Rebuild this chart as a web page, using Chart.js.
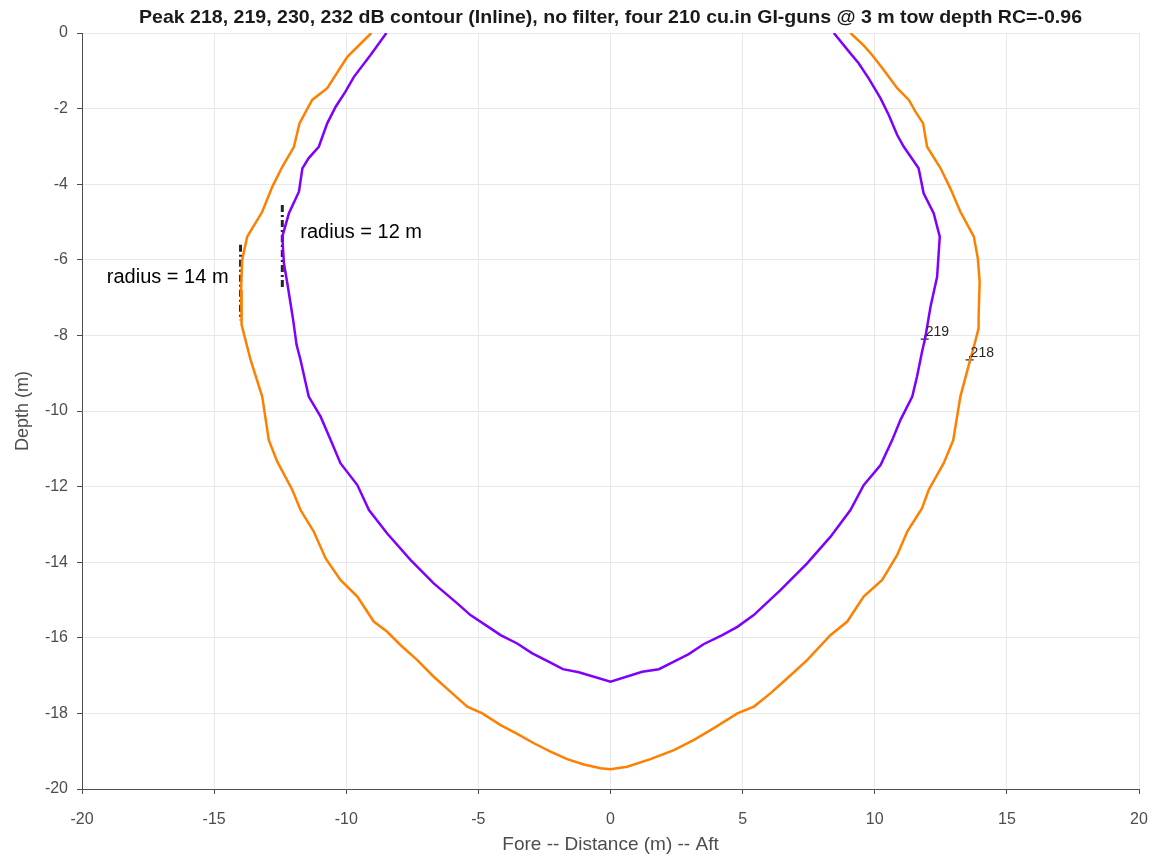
<!DOCTYPE html>
<html>
<head>
<meta charset="utf-8">
<script src="https://cdn.jsdelivr.net/npm/chart.js@4/dist/chart.umd.min.js"></script>
<style>
  body { margin: 0; background: #fff; }
  canvas { display: block; }
</style>
</head>
<body>
<canvas id="contour" width="1151" height="855"></canvas>
<script>
// 218 dB contour (orange), traced left top -> bottom -> right top
const x218 = [-9.05, -9.96, -10.72, -11.29, -11.77, -11.98, -12.42, -12.80, -13.18, -13.75, -13.94, -13.98, -13.96,
  -13.62, -13.18, -12.93, -12.61, -12.04, -11.73, -11.23, -10.78, -10.22, -9.58, -8.96, -8.45, -7.95, -7.31, -6.69,
  -6.05, -5.42, -4.85, -4.16, -3.53, -2.90, -2.27, -1.64, -1.01, -0.38, 0, 0.63, 1.51, 2.40, 3.16, 3.91, 4.80, 5.43,
  6.05, 6.69, 7.44, 8.32, 8.96, 9.58, 10.28, 10.85, 11.23, 11.79, 12.04, 12.61, 12.97, 13.24, 13.59, 13.75, 13.93,
  13.93, 13.97, 13.90, 13.75, 13.24, 12.86, 12.49, 11.98, 11.83, 11.54, 11.29, 10.85, 10.34, 9.90, 9.57, 9.08];
const y218 = [0, -0.63, -1.46, -1.77, -2.39, -3.01, -3.54, -4.07, -4.73, -5.39, -6.01, -6.80, -7.72,
  -8.65, -9.62, -10.77, -11.34, -12.09, -12.62, -13.19, -13.90, -14.47, -14.91, -15.57, -15.84, -16.19, -16.59, -17.03,
  -17.43, -17.82, -18.00, -18.31, -18.54, -18.79, -19.01, -19.21, -19.35, -19.45, -19.48, -19.41, -19.21, -18.97, -18.70, -18.39, -18.00, -17.82,
  -17.47, -17.07, -16.59, -15.93, -15.57, -14.91, -14.47, -13.81, -13.19, -12.57, -12.09, -11.38, -10.77, -9.62, -8.70, -8.30, -7.81,
  -7.51, -6.58, -5.96, -5.39, -4.73, -4.11, -3.58, -3.01, -2.39, -2.08, -1.77, -1.46, -0.98, -0.58, -0.32, 0];

// 219 dB contour (purple)
const x219 = [-8.48, -9.08, -9.71, -10.03, -10.40, -10.72, -11.04, -11.42, -11.66, -11.79, -12.17, -12.42, -12.36,
  -12.23, -12.11, -12.01, -11.88, -11.73, -11.42, -10.97, -10.59, -10.22, -9.58, -9.14, -8.45, -7.57, -6.69, -5.80,
  -5.30, -4.54, -4.16, -3.53, -2.96, -2.40, -1.80, -1.20, 0, 1.20, 1.83, 2.40, 2.96, 3.52, 4.23, 4.80, 5.42, 6.43,
  7.44, 8.32, 9.08, 9.58, 10.22, 10.66, 10.97, 11.42, 11.60, 11.79, 11.92, 12.11, 12.36, 12.46, 12.23, 11.85, 11.66,
  11.10, 10.85, 10.53, 10.22, 9.77, 9.39, 9.08, 8.45];
const y219 = [0, -0.58, -1.16, -1.55, -1.95, -2.39, -3.01, -3.31, -3.58, -4.20, -4.77, -5.39, -6.09,
  -6.62, -7.15, -7.59, -8.25, -8.65, -9.62, -10.15, -10.77, -11.38, -11.96, -12.62, -13.24, -13.94, -14.56, -15.09,
  -15.40, -15.75, -15.93, -16.15, -16.41, -16.61, -16.83, -16.91, -17.16, -16.90, -16.83, -16.63, -16.43, -16.17, -15.93, -15.71, -15.40, -14.74,
  -14.03, -13.33, -12.62, -11.96, -11.43, -10.77, -10.24, -9.62, -9.09, -8.43, -8.03, -7.24, -6.45, -5.39, -4.77, -4.24, -3.58,
  -3.01, -2.70, -2.17, -1.73, -1.20, -0.80, -0.54, 0];

// radius markers
const radiusX = [-14, -12.42];
const radiusTop = [-5.6, -4.55];
const radiusBottom = [-7.6, -6.75];
const radiusText = ['radius = 14 m', 'radius = 12 m'];

// contour labels (clabel)
const levelText = ['219', '218'];
const levelX = [11.89, 13.59];
const levelY = [-8.10, -8.65];

const xTicks = [-20, -15, -10, -5, 0, 5, 10, 15, 20];
const yTicks = [0, -2, -4, -6, -8, -10, -12, -14, -16, -18, -20];

const FONT = "'Liberation Sans', Arial, sans-serif";
const TITLE = 'Peak 218, 219, 230, 232 dB contour (Inline), no filter, four 210 cu.in GI-guns @ 3 m tow depth RC=-0.96';

function toPoints(xs, ys) {
  return xs.map((x, i) => ({ x: x, y: ys[i] }));
}

const datasets = [
  { data: toPoints(x218, y218), borderColor: '#ff8000', borderWidth: 2.5, showLine: true, pointRadius: 0, tension: 0 },
  { data: toPoints(x219, y219), borderColor: '#8000ff', borderWidth: 2.5, showLine: true, pointRadius: 0, tension: 0 }
];
radiusX.forEach((x, i) => {
  datasets.push({
    data: [{ x: x, y: radiusTop[i] }, { x: x, y: radiusBottom[i] }],
    borderColor: '#262626', borderWidth: 3, borderDash: [7, 3, 2, 3],
    showLine: true, pointRadius: 0
  });
});
datasets.push({
  data: toPoints(levelX, levelY), showLine: false,
  pointStyle: 'cross', pointRadius: 4, borderColor: '#262626', borderWidth: 1.2
});

// title + text annotations
const textPlugin = {
  id: 'textPlugin',
  afterDraw(chart) {
    const { ctx, chartArea, scales } = chart;
    const sx = scales.x, sy = scales.y;
    ctx.save();
    ctx.fillStyle = '#1a1a1a';
    ctx.font = 'bold 19px ' + FONT;
    ctx.textAlign = 'center';
    ctx.textBaseline = 'middle';
    // fit title to the width it has in the original
    const cx = (chartArea.left + chartArea.right) / 2;
    const w = ctx.measureText(TITLE).width;
    ctx.save();
    ctx.translate(cx, 17.5);
    ctx.scale(943 / w, 1);
    ctx.fillText(TITLE, 0, 0);
    ctx.restore();

    ctx.fillStyle = '#000';
    ctx.font = '20px ' + FONT;
    // radius = 14 m sits left of its line, radius = 12 m right of its line
    ctx.textAlign = 'right';
    ctx.fillText(radiusText[0], sx.getPixelForValue(radiusX[0]) - 12, sy.getPixelForValue(-6.48));
    ctx.textAlign = 'left';
    ctx.fillText(radiusText[1], sx.getPixelForValue(radiusX[1]) + 18, sy.getPixelForValue(-5.29));

    ctx.font = '14px ' + FONT;
    ctx.fillStyle = '#262626';
    ctx.textBaseline = 'alphabetic';
    levelText.forEach((t, i) => {
      ctx.fillText(t, sx.getPixelForValue(levelX[i]) + 1, sy.getPixelForValue(levelY[i]) - 3);
    });
    ctx.restore();
  }
};

new Chart(document.getElementById('contour'), {
  type: 'scatter',
  data: { datasets: datasets },
  options: {
    responsive: false,
    animation: false,
    layout: { padding: { top: 33, right: 12, left: 0, bottom: 0 } },
    plugins: { legend: { display: false }, tooltip: { enabled: false } },
    scales: {
      x: {
        type: 'linear', min: -20, max: 20,
        afterBuildTicks: (s) => { s.ticks = xTicks.map(v => ({ value: v })); },
        afterFit: (s) => { s.height = 66; s.paddingLeft = 0; s.paddingRight = 0; },
        grid: { color: '#e8e8e8', tickColor: '#4d4d4d', tickLength: 5 },
        border: { color: '#4d4d4d', width: 1 },
        ticks: { color: '#4d4d4d', font: { family: FONT, size: 16 }, padding: 16, maxRotation: 0 },
        title: { display: true, text: 'Fore -- Distance (m) -- Aft', color: '#4d4d4d',
          font: { family: FONT, size: 19 }, padding: { top: 0, bottom: -1 } }
      },
      y: {
        type: 'linear', min: -20, max: 0,
        afterBuildTicks: (s) => { s.ticks = yTicks.map(v => ({ value: v })); },
        afterFit: (s) => { s.width = 82; },
        grid: { color: '#e8e8e8', tickColor: '#4d4d4d', tickLength: 5 },
        border: { color: '#4d4d4d', width: 1 },
        ticks: { color: '#4d4d4d', font: { family: FONT, size: 16 }, padding: 9 },
        title: { display: true, text: 'Depth (m)', color: '#4d4d4d',
          font: { family: FONT, size: 18 }, padding: { top: 12, bottom: 0 } }
      }
    }
  },
  plugins: [textPlugin]
});
</script>
</body>
</html>
